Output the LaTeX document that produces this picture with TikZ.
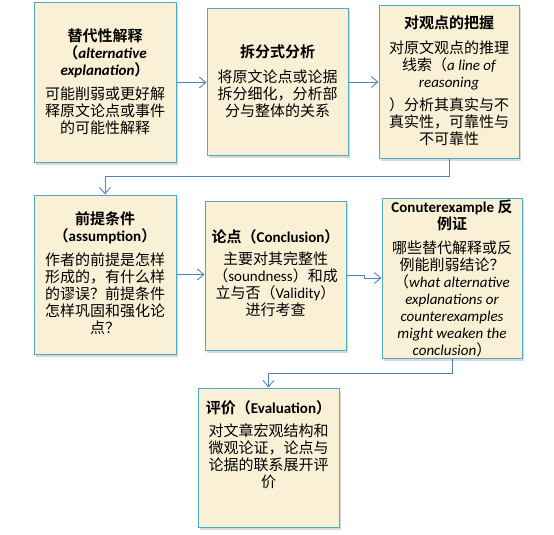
\documentclass[tikz,border=0pt]{standalone}
\usepackage{fontspec}
\setmainfont{Noto Sans CJK SC}[BoldFont={Noto Sans CJK SC Bold}]
\newfontfamily\latfont{Carlito}
\newcommand\lat[1]{{\latfont #1}}
\usetikzlibrary{arrows.meta,shadows}
\definecolor{bord}{HTML}{4BACC6}
\definecolor{parch}{HTML}{FAF0D6}
\definecolor{conn}{HTML}{4F81BD}
\begin{document}
\begin{tikzpicture}[x=1pt,y=-1pt,
  box/.style={draw=bord,line width=1pt,fill=parch,inner sep=0pt,
    drop shadow={opacity=0.3,shadow xshift=2pt,shadow yshift=-2.5pt}},
  txt/.style={align=center,inner sep=0pt,font=\fontsize{15}{17}\selectfont},
  link/.style={draw=conn,line width=0.9pt,-{Straight Barb[length=6.5pt,width=11pt]}}]
\useasboundingbox (0,0) rectangle (554,535);

\node[box,minimum width=142pt,minimum height=159pt] (b1) at (105,82.5) {};
\node[box,minimum width=141pt,minimum height=146pt] (b2) at (277.5,82) {};
\node[box,minimum width=140pt,minimum height=152pt] (b3) at (449,82) {};
\node[box,minimum width=142pt,minimum height=159pt] (b4) at (105,274.5) {};
\node[box,minimum width=141pt,minimum height=149pt] (b5) at (275.5,275.5) {};
\node[box,minimum width=140pt,minimum height=160pt] (b6) at (452,278) {};
\node[box,minimum width=141pt,minimum height=139pt] (b7) at (268.5,457.5) {};

\node[txt] (t1) at (105,81.5) {{\bfseries 替代性解释}\\{\bfseries （\lat{\itshape alternative}}\\{\bfseries\lat{\itshape explanation}）}\\[7pt]可能削弱或更好解\\释原文论点或事件\\的可能性解释};
\node[txt] (t2) at (277.5,81) {{\bfseries 拆分式分析}\\[8pt]将原文论点或论据\\拆分细化，分析部\\分与整体的关系};
\node[txt] (t3) at (449,80.5) {{\bfseries 对观点的把握}\\[8pt]对原文观点的推理\\线索（\lat{\itshape a line of}\\\lat{\itshape reasoning}\\[6pt]）分析其真实与不\\真实性，可靠性与\\不可靠性};
\node[txt] (t4) at (105,273) {{\bfseries 前提条件}\\{\bfseries （\lat{assumption}）}\\[7pt]作者的前提是怎样\\形成的，有什么样\\的谬误？前提条件\\怎样巩固和强化论\\点？};
\node[txt] (t5) at (275.5,273.5) {{\bfseries 论点（\lat{Conclusion}）}\\[5pt]主要对其完整性\\（\lat{soundness}）和成\\立与否（\lat{Validity}）\\进行考查};
\node[txt] (t6) at (452,278.5) {{\bfseries\lat{Conuterexample} 反}\\{\bfseries 例证}\\[7pt]哪些替代解释或反\\例能削弱结论？\\（\lat{\itshape what alternative}\\\lat{\itshape explanations or}\\\lat{\itshape counterexamples}\\\lat{\itshape might weaken the}\\\lat{\itshape conclusion}）};
\node[txt] (t7) at (268.5,445) {{\bfseries 评价（\lat{Evaluation}）}\\[6pt]对文章宏观结构和\\微观论证，论点与\\论据的联系展开评\\价};

\draw[link] (b1.east) -- (b2.west |- b1.east);
\draw[link] (b2.east) -- (b3.west |- b2.east);
\draw[link] (b3.south) -- ++(0,18) -| (b4.north);
\draw[link] (b4.east) -- (b5.west |- b4.east);
\draw[link] (b5.east) -- ++(18,0) |- (b6.west);
\draw[link] (b6.south) -- ++(0,15) -| (b7.north);
\end{tikzpicture}
\end{document}
